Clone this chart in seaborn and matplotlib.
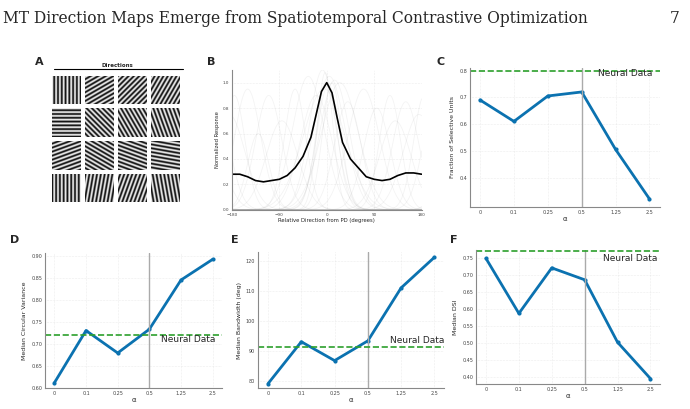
import numpy as np
import matplotlib
matplotlib.use("Agg")
import matplotlib.pyplot as plt
import seaborn as sns
import pandas as pd

sns.set_theme(style="whitegrid")
plt.rcParams['font.family'] = ['DejaVu Sans']

alphas = ["0", "0.1", "0.25", "0.5", "1.25", "2.5"]
frac_selective = [0.69, 0.61, 0.705, 0.72, 0.505, 0.32]
circ_var = [0.612, 0.731, 0.680, 0.734, 0.846, 0.893]
bandwidth = [79.0, 93.0, 86.7, 93.3, 111.0, 121.2]
median_dsi = [0.75, 0.588, 0.722, 0.687, 0.503, 0.396]
neural_frac, neural_cv, neural_bw, neural_dsi = 0.80, 0.72, 91.2, 0.771

grating_angles = [[0, 60, 45, 30], [90, 135, 150, 160], [70, 120, 110, 100], [180, 10, 20, 170]]

dirs = [-180, -165, -150, -135, -120, -105, -90, -75, -60, -45, -30, -20, -10, 0,
        10, 20, 30, 45, 60, 75, 90, 105, 120, 135, 150, 165, 180]
mean_resp = [0.28, 0.28, 0.26, 0.23, 0.22, 0.23, 0.24, 0.27, 0.33, 0.42, 0.57, 0.75, 0.93, 1.0,
             0.92, 0.72, 0.53, 0.40, 0.33, 0.26, 0.24, 0.23, 0.24, 0.27, 0.29, 0.29, 0.28]
# background unit tuning curves: (centre, width, amplitude)
units = [(0, 20, 1.0), (5, 30, 1.05), (-8, 25, 1.1), (10, 18, 1.0), (-5, 40, 0.95),
         (-150, 25, 0.95), (-110, 25, 0.9), (-60, 20, 0.95), (-35, 30, 1.05), (40, 25, 0.85),
         (70, 30, 0.95), (120, 20, 0.9), (150, 25, 0.85), (175, 30, 0.75), (-175, 20, 0.9),
         (95, 25, 0.8), (-85, 30, 0.7), (-130, 20, 0.6), (130, 30, 0.7), (25, 35, 1.0),
         (-3, 15, 1.08), (3, 22, 0.98), (-20, 30, 0.9), (15, 28, 1.02)]

fig = plt.figure(figsize=(6.9, 4.09), dpi=100)
fig.text(0.005, 0.975, "MT Direction Maps Emerge from Spatiotemporal Contrastive Optimization",
         family="DejaVu Serif", fontsize=11.2, va="top")
fig.text(0.985, 0.975, "7", family="DejaVu Serif", fontsize=11.2, va="top", ha="right")

# Panel A
fig.text(0.05, 0.84, "A", fontsize=8, weight="bold")
fig.text(0.17, 0.835, "Directions", fontsize=4, weight="bold", ha="center")
fig.add_artist(plt.Line2D([0.078, 0.265], [0.832, 0.832], color="black", lw=0.8))
yy, xx = np.mgrid[-1:1:200j, -1:1:200j]
for r in range(4):
    for c in range(4):
        ax = fig.add_axes([0.075 + c * 0.048, 0.745 - r * 0.08, 0.042, 0.07])
        th = np.deg2rad(grating_angles[r][c])
        img = np.sin((xx * np.cos(th) + yy * np.sin(th)) * 24)
        ax.imshow(img, cmap="gray", interpolation="antialiased", aspect="auto")
        ax.axis("off")

def style(ax, fs=3.5):
    ax.tick_params(labelsize=fs, length=0, pad=2, colors="#444")
    ax.grid(True, ls=":", lw=0.4, color="#ddd")
    for s in ["top", "right"]:
        ax.spines[s].set_visible(False)
    for s in ["left", "bottom"]:
        ax.spines[s].set_color("#888")
        ax.spines[s].set_linewidth(0.8)

# Panel B
axB = fig.add_axes([0.336, 0.487, 0.275, 0.342])
fig.text(0.30, 0.84, "B", fontsize=8, weight="bold")
xf = np.linspace(-180, 180, 181)
for cen, w, a in units:
    d = (xf - cen + 180) % 360 - 180
    axB.plot(xf, a * np.exp(-(d / w) ** 2 / 2), color="gray", alpha=0.09, lw=0.6)
sns.lineplot(x=dirs, y=mean_resp, color="black", lw=1.2, ax=axB)
axB.set_xlim(-180, 180); axB.set_ylim(0, 1.1)
axB.set_xticks([-180, -90, 0, 90, 180]); axB.set_yticks([0, 0.2, 0.4, 0.6, 0.8, 1.0])
axB.set_xlabel("Relative Direction from PD (degrees)", fontsize=3.8, labelpad=1)
axB.set_ylabel("Normalized Response", fontsize=3.8, labelpad=2)
style(axB, 3)

def panel(rect, letter, lpos, vals, neural, ylabel, yt, ylim, txt_pos):
    ax = fig.add_axes(rect)
    fig.text(lpos[0], lpos[1], letter, fontsize=8, weight="bold")
    df = pd.DataFrame({"a": alphas, "v": vals})
    sns.lineplot(data=df, x="a", y="v", color="#0b72b0", lw=2, marker="o", ms=3,
                 markeredgewidth=0, ax=ax, sort=False)
    ax.axvline(3, color="#aaa", lw=1)
    ax.axhline(neural, color="#2ca02c", ls="--", lw=1.2)
    ax.set_yticks(yt); ax.set_ylim(*ylim); ax.set_xlim(-0.3, 5.3)
    ax.set_xlabel("α", fontsize=5, labelpad=1)
    ax.set_ylabel(ylabel, fontsize=4.5, labelpad=3)
    ax.text(txt_pos[0], txt_pos[1], "Neural Data", fontsize=6.5, ha="right", transform=ax.transData)
    style(ax)
    return ax

panel([0.681, 0.494, 0.275, 0.34], "C", (0.632, 0.84), frac_selective, neural_frac,
      "Fraction of Selective Units", [0.4, 0.5, 0.6, 0.7, 0.8], (0.29, 0.81), (5.1, 0.78))
panel([0.065, 0.051, 0.257, 0.33], "D", (0.015, 0.405), circ_var, neural_cv,
      "Median Circular Variance", [0.60, 0.65, 0.70, 0.75, 0.80, 0.85, 0.90], (0.60, 0.907), (5.1, 0.705))
panel([0.374, 0.051, 0.27, 0.333], "E", (0.335, 0.405), bandwidth, neural_bw,
      "Median Bandwidth (deg)", [80, 90, 100, 110, 120], (77.5, 123), (5.3, 92.5))
panel([0.69, 0.061, 0.267, 0.328], "F", (0.652, 0.405), median_dsi, neural_dsi,
      "Median DSI", [0.40, 0.45, 0.50, 0.55, 0.60, 0.65, 0.70, 0.75], (0.38, 0.775), (5.2, 0.743))

fig.savefig("out.png", dpi=100)
